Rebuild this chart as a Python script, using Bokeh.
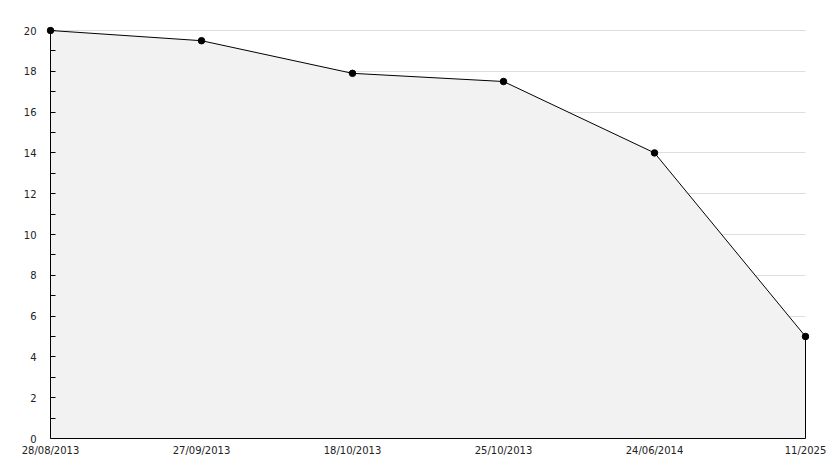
from bokeh.plotting import figure
from bokeh.models import FixedTicker, Range1d, LinearAxis
from bokeh.embed import file_html
from bokeh.resources import INLINE

dates = ["28/08/2013", "27/09/2013", "18/10/2013", "25/10/2013", "24/06/2014", "11/2025"]
values = [20, 19.5, 17.9, 17.5, 14, 5]
y_ticks = [0, 2, 4, 6, 8, 10, 12, 14, 16, 18, 20]
y_minor = [1, 3, 5, 7, 9, 11, 13, 15, 17, 19]

xs = list(range(len(dates)))
n = len(dates) - 1

# layout (pixels)
W, H = 826, 460
plot_w, plot_h = 755, 408
pad = 4
left, top = 50 - pad, 30 - pad
fw, fh = plot_w + 2 * pad, plot_h + pad

xpad = pad * n / plot_w
ypad = pad * 20 / plot_h

p = figure(width=W, height=H, output_backend="svg", toolbar_location=None,
           x_range=Range1d(-xpad, n + xpad), y_range=Range1d(0, 20 + ypad),
           min_border_left=left, min_border_top=top,
           min_border_right=W - left - fw, min_border_bottom=H - top - fh)
p.outline_line_color = None
p.background_fill_color = "white"
p.border_fill_color = "white"

p.patch(xs + [xs[-1], xs[0]], values + [0, 0], fill_color="#f2f2f2", line_color="black", line_width=1)
p.scatter(xs, values, size=6.5, marker="circle", color="black")

p.xgrid.visible = False
yg = p.ygrid[0]
yg.ticker = FixedTicker(ticks=y_ticks)
yg.grid_line_color = "#dddddd"
if "cross_bounds" in yg.properties():
    yg.cross_bounds = (0, n)

# label-only y axis at the frame edge
ya = p.yaxis[0]
ya.ticker = FixedTicker(ticks=y_ticks)
ya.axis_line_color = None
ya.major_tick_line_color = None
ya.minor_tick_line_color = None
ya.major_label_standoff = 4
ya.major_label_text_font = "DejaVu Sans"
ya.major_label_text_font_size = "10px"
ya.major_label_text_color = "#222222"

# line + ticks y axis located at x = 0
yl = LinearAxis(ticker=FixedTicker(ticks=y_ticks, minor_ticks=y_minor), fixed_location=0,
                bounds=(0, 20), major_tick_in=5, major_tick_out=0, minor_tick_in=5, minor_tick_out=0,
                axis_line_color="black", major_tick_line_color="black", minor_tick_line_color="black",
                major_label_text_color=None, major_label_text_font_size="1px", major_label_standoff=0)
p.add_layout(yl, "left")

xa = p.xaxis[0]
xa.ticker = FixedTicker(ticks=xs)
xa.bounds = (0, n)
xa.major_label_overrides = {i: d for i, d in enumerate(dates)}
xa.major_tick_in = 0
xa.major_tick_out = 0
xa.minor_tick_in = 0
xa.minor_tick_out = 0
xa.major_label_standoff = 6
xa.axis_line_color = "black"
xa.major_label_text_font = "DejaVu Sans"
xa.major_label_text_font_size = "10px"
xa.major_label_text_color = "#222222"

open("out.html", "w").write(file_html(p, INLINE))
